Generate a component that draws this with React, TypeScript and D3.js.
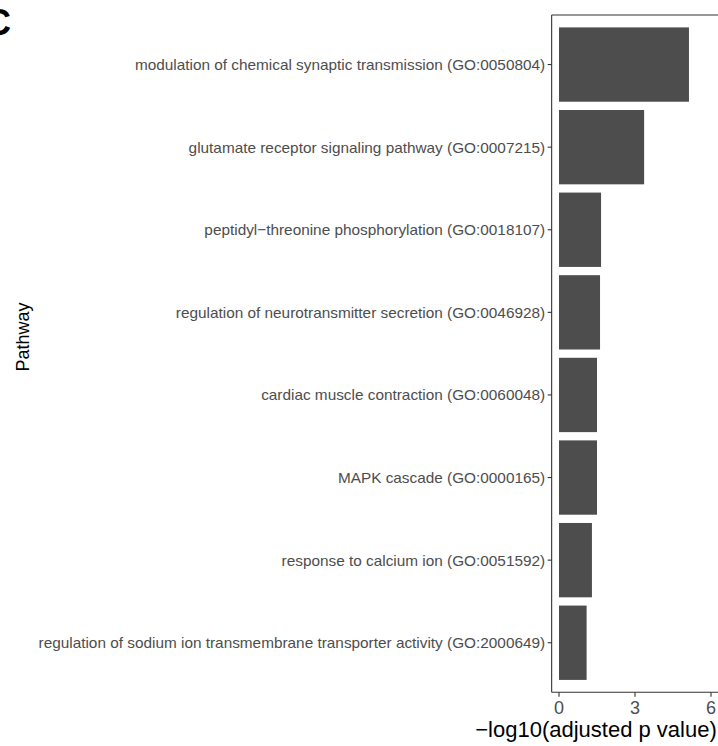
import React from "react";
import * as d3 from "d3";

const pathways = [
  "modulation of chemical synaptic transmission (GO:0050804)",
  "glutamate receptor signaling pathway (GO:0007215)",
  "peptidyl\u2212threonine phosphorylation (GO:0018107)",
  "regulation of neurotransmitter secretion (GO:0046928)",
  "cardiac muscle contraction (GO:0060048)",
  "MAPK cascade (GO:0000165)",
  "response to calcium ion (GO:0051592)",
  "regulation of sodium ion transmembrane transporter activity (GO:2000649)",
];
const values = [5.13, 3.36, 1.66, 1.62, 1.5, 1.5, 1.3, 1.09];
const xTicks = [0, 3, 6];

const W = 718;
const H = 746;
const FONT = "'Liberation Sans', Arial, Helvetica, sans-serif";

export default function App() {
  const x = d3.scaleLinear().domain([0, 6]).range([559, 711]);
  const xMin = -0.29;
  const panelLeft = x(xMin);
  const panelTop = 15;
  const panelBottom = 692.3;
  const y = d3
    .scaleBand<string>()
    .domain(pathways)
    .range([panelTop, panelBottom])
    .paddingInner(0.1)
    .paddingOuter(0.15);

  return (
    <svg
      width={W}
      height={H}
      style={{ position: "absolute", left: 0, top: 0, background: "#fff" }}
      fontFamily={FONT}
    >
      <rect x={0} y={0} width={W} height={H} fill="#fff" />
      <text x={-15} y={35} fontSize={36} fontWeight="bold" fill="#000">
        C
      </text>
      {pathways.map((p, i) => (
        <rect
          key={p}
          x={x(0)}
          y={y(p)!}
          width={x(values[i]) - x(0)}
          height={y.bandwidth()}
          fill="#4D4D4D"
        />
      ))}
      {/* axes */}
      <line x1={panelLeft} x2={W} y1={panelTop} y2={panelTop} stroke="#333" strokeWidth={1.1} />
      <line x1={panelLeft} x2={panelLeft} y1={panelTop} y2={panelBottom} stroke="#333" strokeWidth={1.1} />
      <line x1={panelLeft} x2={W} y1={panelBottom} y2={panelBottom} stroke="#333" strokeWidth={1.1} />
      {pathways.map((p) => {
        const cy = y(p)! + y.bandwidth() / 2;
        return (
          <g key={"t" + p}>
            <line x1={panelLeft - 4} x2={panelLeft} y1={cy} y2={cy} stroke="#333" strokeWidth={1.1} />
            <text
              x={panelLeft - 6.5}
              y={cy}
              dy="0.35em"
              textAnchor="end"
              fontSize={15.35}
              fill="#4D4D4D"
            >
              {p}
            </text>
          </g>
        );
      })}
      {xTicks.map((t) => (
        <g key={"x" + t}>
          <line x1={x(t)} x2={x(t)} y1={panelBottom} y2={panelBottom + 4.5} stroke="#333" strokeWidth={1.1} />
          <text x={x(t)} y={714} textAnchor="middle" fontSize={18} fill="#4D4D4D">
            {t}
          </text>
        </g>
      ))}
      <text x={596} y={737} textAnchor="middle" fontSize={22} fill="#000">
        {"\u2212log10(adjusted p value)"}
      </text>
      <text
        transform={`translate(29,337) rotate(-90)`}
        textAnchor="middle"
        fontSize={18}
        fill="#000"
      >
        Pathway
      </text>
    </svg>
  );
}
